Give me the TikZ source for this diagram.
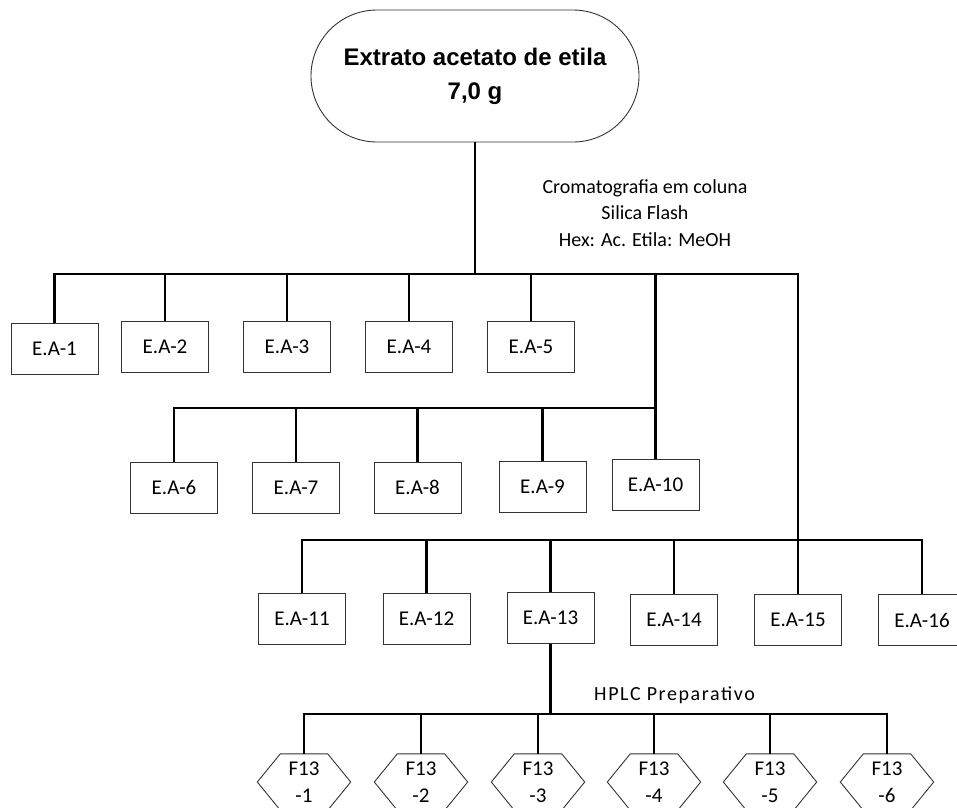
\documentclass[tikz,border=0pt]{standalone}
\usepackage{fontspec}
\setmainfont{Carlito}
\newfontfamily\arialb{Liberation Sans}
\newfontfamily\widefont[LetterSpace=8]{Carlito}
\usetikzlibrary{shapes.misc,calc}
\begin{document}
\begin{tikzpicture}[x=1pt,y=-1pt,
 conn/.style={line width=2.2pt, draw=black},
 box/.style={draw=black!80, line width=0.9pt, minimum width=87pt, minimum height=51pt, inner sep=0pt, font=\fontsize{21}{25}\selectfont},
 hexnode/.style={minimum width=93pt, minimum height=56pt, inner sep=0pt, align=center, font=\fontsize{21}{27}\selectfont},
 hexline/.style={draw=black!80, line width=0.9pt},
 lbl/.style={align=center, font=\fontsize{20}{26.5}\selectfont, inner sep=0pt},
 term/.style={rounded rectangle, draw=black!80, line width=0.9pt, minimum width=328pt, minimum height=132pt, inner sep=0pt, align=center, font=\arialb\bfseries\fontsize{24}{34}\selectfont}
]
\useasboundingbox (0,0) rectangle (957,807);

\node[term] (top) at (475,76) {Extrato acetato de etila\\7,0 g};

% row 1
\node[box] (ea1) at (54.5,348.5) {E.A-1};
\node[box] (ea2) at (165,346.5) {E.A-2};
\node[box] (ea3) at (287,346.5) {E.A-3};
\node[box] (ea4) at (409,346.5) {E.A-4};
\node[box] (ea5) at (531,346.5) {E.A-5};
% row 2
\node[box] (ea6) at (174,487.5) {E.A-6};
\node[box] (ea7) at (296,487.5) {E.A-7};
\node[box] (ea8) at (417.5,487.5) {E.A-8};
\node[box] (ea9) at (542.5,487) {E.A-9};
\node[box] (ea10) at (655.5,485) {E.A-10};
% row 3
\node[box] (ea11) at (302,618.5) {E.A-11};
\node[box] (ea12) at (426.5,618.5) {E.A-12};
\node[box] (ea13) at (550.5,618) {E.A-13};
\node[box] (ea14) at (674,620) {E.A-14};
\node[box] (ea15) at (798,620) {E.A-15};
\node[box] (ea16) at (922,620) {E.A-16};

% hexagons
\foreach \i/\x in {1/304,2/421,3/538,4/654,5/770,6/887}{
  \node[hexnode] (f\i) at (\x,782) {F13\\-\i};
  \draw[hexline] (f\i.west) -- ($(f\i.north west)+(23,0)$) -- ($(f\i.north east)+(-23,0)$) -- (f\i.east) -- ($(f\i.south east)+(-23,0)$) -- ($(f\i.south west)+(23,0)$) -- cycle;
}

% labels
\node[lbl] (cc) at (645,213) {Cromatografia em coluna\\Silica Flash\\Hex: Ac. Etila: MeOH};
\node[lbl, font=\widefont\fontsize{20}{24}\selectfont] (hplc) at (674.5,695) {HPLC Preparativo};

% junctions
\coordinate (b1) at (475,274);
\coordinate (r2) at (655.5,408);
\coordinate (r3) at (798,540);
\coordinate (r4) at (550.5,714);

\draw[conn] (top.south) -- (b1);
\foreach \n in {ea1,ea2,ea3,ea4,ea5,ea10,ea15}
  \draw[conn] (b1) -| (\n.north);
\foreach \n in {ea6,ea7,ea8,ea9}
  \draw[conn] (r2) -| (\n.north);
\foreach \n in {ea11,ea12,ea13,ea14,ea16}
  \draw[conn] (r3) -| (\n.north);
\draw[conn] (ea13.south) -- (r4);
\foreach \i in {1,...,6}
  \draw[conn] (r4) -| (f\i.north);
\end{tikzpicture}
\end{document}
